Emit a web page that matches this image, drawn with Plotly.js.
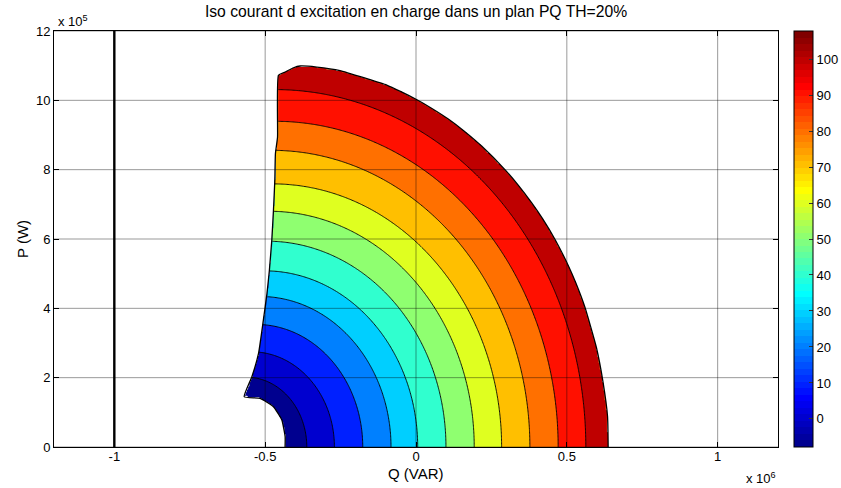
<!DOCTYPE html>
<html><head><meta charset="utf-8">
<script src="https://cdn.plot.ly/plotly-3.0.1.min.js"></script>
<style>html,body{margin:0;padding:0;background:#fff}</style>
</head><body>
<div id="chart" style="width:841px;height:488px"></div>
<script>
// ---- data ----
// iso excitation-current lines: level, Q where the line meets P=0, P at the top of the line
const isoLevels = [0, 10, 20, 30, 40, 50, 60, 70, 80, 90, 100];
const isoQ0 = [-362000, -270500, -176500, -82800, 5600, 99300, 193000, 283800, 377500, 471200, 562900];
const isoPtop = [201700, 274600, 353600, 434300, 508100, 593700, 680100, 758800, 855900, 939500, 1031000];
// outline of the computed operating region (Q in VAR, P in W)
const regionQ = [637000, 635000, 620000, 598000, 560000, 530000, 505000, 460000, 420000, 383000, 340000, 294700,
  217500, 160000, 107000, 50000, 0, -50000,
  -97000, -163000, -252000, -329000, -384000, -406000, -434000, -456000,
  -459000, -466000, -468000, -472500, -478000, -486000, -494000, -506000, -522000, -544000, -569500,
  -516600, -472500, -444700, -433800, -434000];
const regionP = [0, 87300, 187000, 287000, 403000, 473000, 523000, 600000, 658000, 705000, 754000, 800000,
  868000, 911000, 946000, 978000, 1003000, 1025000,
  1044000, 1062500, 1086000, 1096000, 1099000, 1094000, 1081600, 1072000,
  894000, 846000, 769000, 683000, 597000, 510000, 443000, 366000, 270000, 202600, 145000,
  140300, 116000, 77800, 29700, 0];
// vertical limit line
const limitQ = [-1000000, -1000000];
const limitP = [0, 1200000];
// axes
const xTickVals = [-1000000, -500000, 0, 500000, 1000000];
const xTickText = ['-1', '-0.5', '0', '0.5', '1'];
const yTickVals = [0, 200000, 400000, 600000, 800000, 1000000, 1200000];
const yTickText = ['0', '2', '4', '6', '8', '10', '12'];
const cbTickVals = [0, 10, 20, 30, 40, 50, 60, 70, 80, 90, 100];
const zMin = -7.8, zMax = 107.8;
const xRange = [-1200000, 1200000];
const yRange = [0, 1200000];

// ---- MATLAB jet(64) ----
function jet64(i) {
  const n = 16, u = [];
  for (let j = 1; j <= n; j++) u.push(j / n);
  for (let j = 0; j < n - 1; j++) u.push(1);
  for (let j = n; j >= 1; j--) u.push(j / n);
  const I = i + 1;
  const v = idx => (idx >= 1 && idx <= u.length) ? u[idx - 1] : 0;
  const c = [v(I - 24), v(I - 8), v(I + 8)].map(t => Math.round(t * 255));
  return 'rgb(' + c.join(',') + ')';
}
function colorOf(val) {
  let idx = Math.floor((val - zMin) / (zMax - zMin) * 64);
  idx = Math.max(0, Math.min(63, idx));
  return jet64(idx);
}
const cbScale = [];
for (let i = 0; i < 64; i++) { cbScale.push([i / 64, jet64(i)]); cbScale.push([(i + 1) / 64, jet64(i)]); }
const bandVals = [zMin].concat(isoLevels);
const fillScale = bandVals.map((v, i) => [i / (bandVals.length - 1), colorOf(v)]);

// ---- field built from the iso lines ----
function fieldAt(q, p) {
  const n = isoLevels.length, d = [];
  for (let k = 0; k < n; k++) {
    const r = isoPtop[k], c = isoQ0[k] - r;
    d.push(Math.hypot(q - c, p) - r);
  }
  let k = 0;
  while (k < n - 2 && d[k + 1] >= 0) k++;
  return isoLevels[k] + (isoLevels[k + 1] - isoLevels[k]) * d[k] / (d[k] - d[k + 1]);
}
function inside(q, p) {
  let c = false;
  for (let i = 0, j = regionQ.length - 1; i < regionQ.length; j = i++) {
    const xi = regionQ[i], yi = regionP[i], xj = regionQ[j], yj = regionP[j];
    if (((yi > p) !== (yj > p)) && (q < (xj - xi) * (p - yi) / (yj - yi) + xi)) c = !c;
  }
  return c;
}
const gq = [], gp = [];
for (let q = -600000; q <= 660000; q += 4000) gq.push(q);
for (let p = 0; p <= 1120000; p += 4000) gp.push(p);
const gz = gp.map(p => gq.map(q => inside(q, p + 1) ? fieldAt(q, p) : null));

const contourTrace = {
  type: 'contour', x: gq, y: gp, z: gz,
  autocontour: false,
  contours: { start: isoLevels[0], end: isoLevels[isoLevels.length - 1], size: isoLevels[1] - isoLevels[0], coloring: 'fill', showlines: true },
  line: { color: '#000', width: 0.9, smoothing: 1 },
  colorscale: fillScale, showscale: false, connectgaps: false, hoverinfo: 'skip'
};
const outlineTrace = {
  type: 'scatter', mode: 'lines', x: regionQ, y: regionP,
  line: { color: '#000', width: 1.3, shape: 'spline', smoothing: 0.4 }, hoverinfo: 'skip', showlegend: false
};
const limitTrace = {
  type: 'scatter', mode: 'lines', x: limitQ, y: limitP,
  line: { color: '#000', width: 2.4 }, hoverinfo: 'skip', showlegend: false
};
const cbTrace = {
  type: 'scatter', mode: 'markers', x: [null], y: [null],
  marker: { color: [zMin], cmin: zMin, cmax: zMax, colorscale: cbScale, showscale: true, size: 1,
    colorbar: { x: 1.022, xanchor: 'left', xpad: 0, ypad: 0, y: 0.5, yanchor: 'middle', len: 1, lenmode: 'fraction',
      thickness: 19, thicknessmode: 'pixels', outlinewidth: 1, outlinecolor: '#000',
      tickvals: cbTickVals, ticks: 'inside', ticklen: 4, tickcolor: '#333',
      tickfont: { family: 'Liberation Sans, Arial, sans-serif', size: 13, color: '#000' } } },
  hoverinfo: 'skip', showlegend: false
};

const shapes = [];
xTickVals.forEach(v => shapes.push({ type: 'line', layer: 'above', xref: 'x', yref: 'y', x0: v, x1: v, y0: yRange[0], y1: yRange[1], line: { color: 'rgba(0,0,0,0.4)', width: 1 } }));
yTickVals.forEach(v => shapes.push({ type: 'line', layer: 'above', xref: 'x', yref: 'y', x0: xRange[0], x1: xRange[1], y0: v, y1: v, line: { color: 'rgba(0,0,0,0.4)', width: 1 } }));

const font = { family: 'Liberation Sans, Arial, sans-serif', color: '#000' };
const layout = {
  width: 841, height: 488,
  margin: { l: 54, r: 63, t: 31, b: 41, autoexpand: false },
  paper_bgcolor: '#fff', plot_bgcolor: '#fff',
  showlegend: false,
  font: Object.assign({ size: 13 }, font),
  title: { text: 'Iso courant d excitation en charge dans un plan PQ TH=20%', font: Object.assign({ size: 15.7 }, font), x: 0.5, xref: 'paper', y: 1 - 12 / 488, yanchor: 'middle' },
  xaxis: { range: xRange, tickvals: xTickVals, ticktext: xTickText, ticks: 'inside', ticklen: 5, tickcolor: '#000',
    showline: true, linecolor: '#000', linewidth: 1, mirror: 'ticks', showgrid: false, zeroline: false,
    ticklabelstandoff: -3, tickfont: Object.assign({ size: 13 }, font) },
  yaxis: { range: yRange, tickvals: yTickVals, ticktext: yTickText, ticks: 'inside', ticklen: 5, tickcolor: '#000',
    showline: true, linecolor: '#000', linewidth: 1, mirror: 'ticks', showgrid: false, zeroline: false,
    tickfont: Object.assign({ size: 13 }, font) },
  shapes: shapes,
  annotations: [
    { text: 'Q (VAR)', xref: 'paper', yref: 'paper', x: 0.5, y: -0.064, xanchor: 'center', yanchor: 'middle', showarrow: false, font: Object.assign({ size: 15 }, font) },
    { text: 'P (W)', xref: 'paper', yref: 'paper', x: -0.0442, y: 0.5, xanchor: 'center', yanchor: 'middle', textangle: -90, showarrow: false, font: Object.assign({ size: 15 }, font) },
    { text: 'x 10<sup>5</sup>', xref: 'paper', yref: 'paper', x: 0.003, y: 1.0, xanchor: 'left', yanchor: 'bottom', showarrow: false, font: Object.assign({ size: 13 }, font) },
    { text: 'x 10<sup>6</sup>', xref: 'paper', yref: 'paper', x: 1.0, y: -0.075, xanchor: 'right', yanchor: 'middle', showarrow: false, font: Object.assign({ size: 13 }, font) }
  ]
};
Plotly.newPlot('chart', [contourTrace, outlineTrace, limitTrace, cbTrace], layout, { staticPlot: true, displayModeBar: false });
</script>
</body></html>
